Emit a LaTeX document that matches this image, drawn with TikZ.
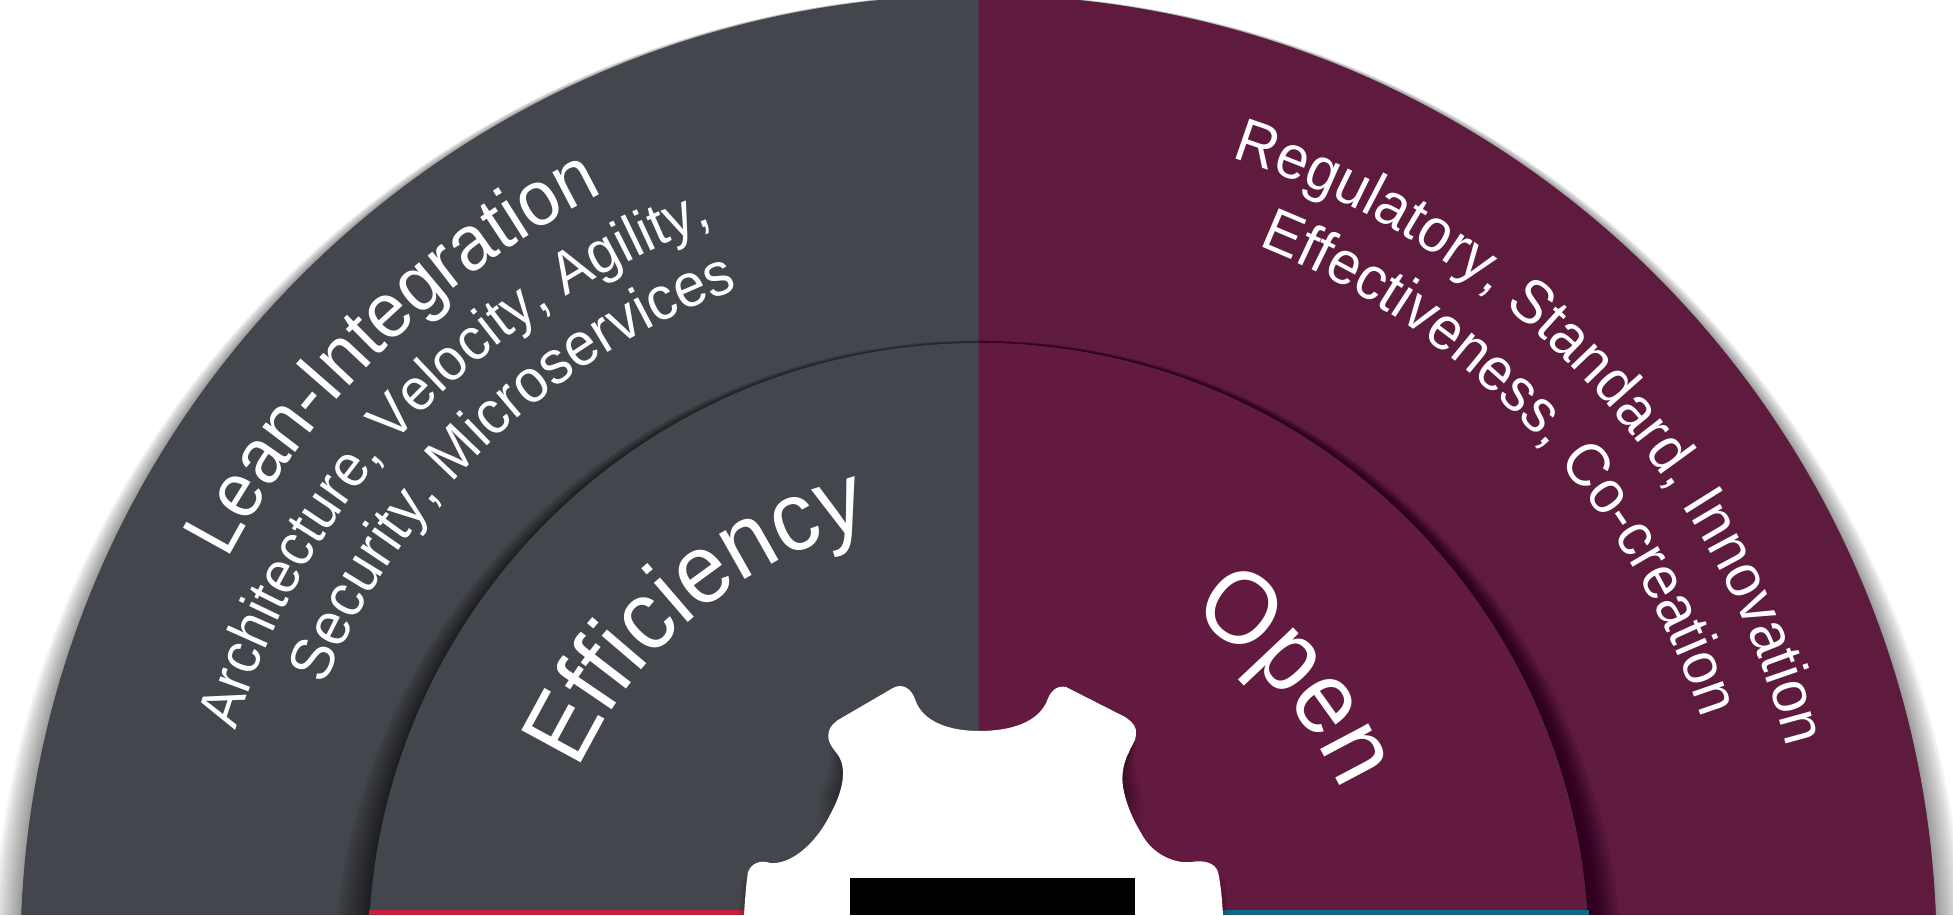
\documentclass[tikz,border=0pt]{standalone}
\usepackage{fontspec}
\setmainfont[FakeStretch=0.94]{Liberation Sans}
\usetikzlibrary{decorations.text}
\definecolor{ringgray}{HTML}{44464D}
\definecolor{ringplum}{HTML}{5F1B3D}
\definecolor{coreplum}{HTML}{631A40}
\definecolor{barred}{HTML}{C4213A}
\definecolor{barteal}{HTML}{0E6A85}
\newcommand{\ftBig}{\color{white}\fontsize{98}{106}\selectfont}
\newcommand{\ftOpen}{\color{white}\fontsize{103}{110}\selectfont}
\newcommand{\ftHead}{\color{white}\fontsize{78}{84}\selectfont}
\newcommand{\ftA}{\color{white}\fontsize{59.5}{66}\selectfont}
\newcommand{\ftS}{\color{white}\fontsize{61}{66}\selectfont}
\newcommand{\ftR}{\color{white}\fontsize{61.5}{66}\selectfont}
\newcommand{\ftE}{\color{white}\fontsize{61}{66}\selectfont}
\newcommand{\gearpath}{
  (979,731)
  .. controls (1012,731) and (1038,722) .. (1047,701)
  .. controls (1050,692) and (1056,685) .. (1066,687)
  -- (1125,717)
  .. controls (1134,723) and (1137,728) .. (1136,735)
  .. controls (1136,741) and (1130,748) .. (1129,752)
  .. controls (1122,765) and (1121,780) .. (1124,792)
  .. controls (1128,810) and (1136,825) .. (1144,838)
  .. controls (1155,855) and (1175,864) .. (1192,862)
  .. controls (1202,860) and (1215,862) .. (1218,872)
  .. controls (1221,885) and (1222,900) .. (1223,915)
  -- (1223,940) -- (744,940) -- (744,915)
  .. controls (745,900) and (746,885) .. (748,872)
  .. controls (752,862) and (762,860) .. (770,863)
  .. controls (790,865) and (815,845) .. (830,815)
  .. controls (842,793) and (848,770) .. (838,755)
  .. controls (833,748) and (826,742) .. (829,731)
  .. controls (830,727) and (833,724) .. (838,720)
  -- (893,688)
  .. controls (902,683) and (911,688) .. (915,699)
  .. controls (922,722) and (950,731) .. (979,731) -- cycle}
\tikzset{
  softshade/.style={fill=black,opacity=.015,draw=none},
  gearshade/.style={fill=black,opacity=.028,draw=none},
  arctext/.style={decorate,decoration={text along path,text align=center,text={#1}}},
  pxspace/.style={x=1pt,y=-1pt,shift={(-978.5pt,953pt)}}
}
\begin{document}
\begin{tikzpicture}[x=1pt,y=1pt]
\useasboundingbox (-978.5,38) rectangle (974.5,953);
\clip (-978.5,38) rectangle (974.5,953);
% outer ring shadow
\foreach \s in {1,2,...,30}{
  \fill[softshade] (0,-0.97*\s) circle ({958+\s});
}
% outer ring
\fill[ringgray] (0,0) circle (958);
\fill[ringplum] (0,-40) -- (0,958) arc (90:-5:958) -- cycle;
% inner disc shadow
\foreach \s in {1,2,...,36}{
  \fill[softshade] (0,-0.93*\s) circle ({610+\s});
}
% inner disc
\fill[ringgray] (0,0) circle (610);
\fill[coreplum] (0,-40) -- (0,610) arc (90:-5:610) -- cycle;
% bottom bars
\begin{scope}[pxspace]
  \fill[barred] (369,910) rectangle (979,915);
  \fill[barteal] (979,910) rectangle (1589,915);
  \foreach \s in {1,2,...,13}{
    \begin{scope}
      \clip (700,742) rectangle (1300,{835-3*\s});
      \fill[gearshade,shift={(-\s pt,1.6*\s pt)}] \gearpath;
      \fill[gearshade,shift={(\s pt,1.6*\s pt)}] \gearpath;
    \end{scope}
  }
  \foreach \s in {1,2,...,6}{
    \begin{scope}
      \clip (700,880) rectangle (1300,915);
      \fill[gearshade,shift={(-\s pt,0pt)}] \gearpath;
      \fill[gearshade,shift={(\s pt,0pt)}] \gearpath;
    \end{scope}
  }
  \fill[white] \gearpath;
  \fill[black] (850,878) rectangle (1135,915);
\end{scope}
% texts
\path[arctext={|\ftHead|Lean-Integration}] (134.3+40:847) arc (134.3+40:134.3-40:847);
\path[arctext={|\ftA|Architecture, Velocity, Agility,}] (136.7+45:775) arc (136.7+45:136.7-45:775);
\path[arctext={|\ftS|Security, Microservices}] (133.8+40:706) arc (133.8+40:133.8-40:706);
\path[arctext={|\ftR|Regulatory, Standard, Innovation}] (43.3+45:834) arc (43.3+45:43.3-45:834);
\path[arctext={|\ftE|Effectiveness, Co-creation}] (43.2+40:760) arc (43.2+40:43.2-40:760);
\path[arctext={|\ftBig|Efficiency}] (129.8+55:440) arc (129.8+55:129.8-55:440);
\path[arctext={|\ftOpen|Open}] (41+45:398) arc (41+45:41-45:398);
\end{tikzpicture}
\end{document}
